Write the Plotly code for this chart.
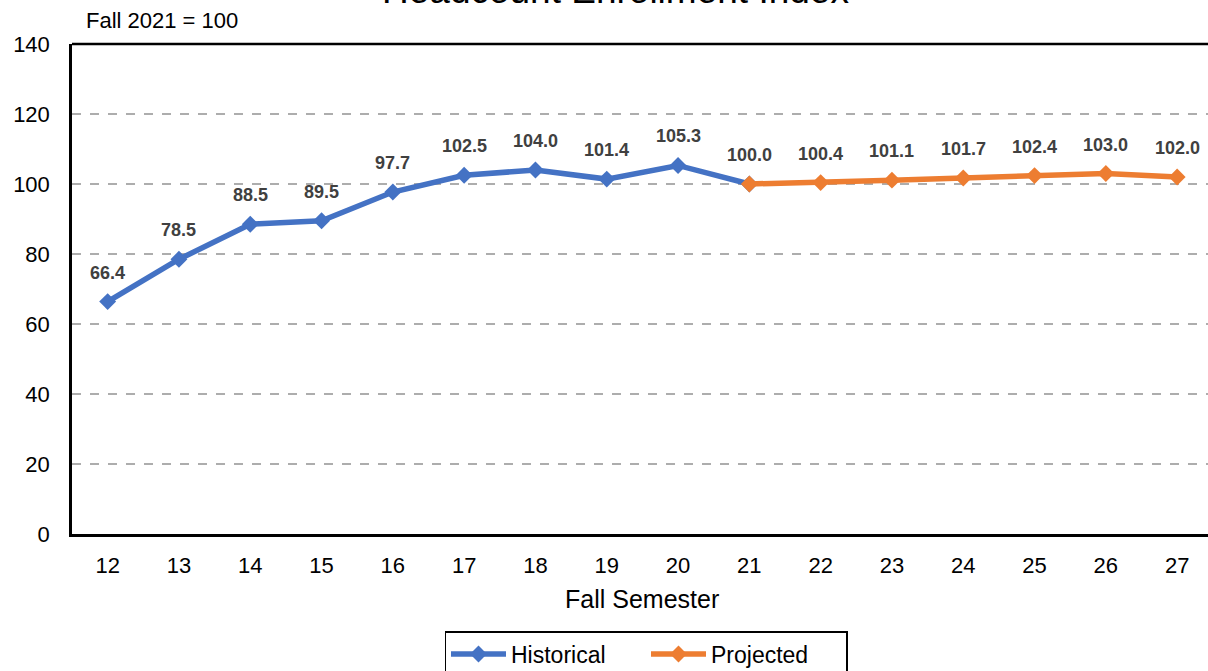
import plotly.graph_objects as go

# index values, Fall 2021 = 100
hist_years = [12, 13, 14, 15, 16, 17, 18, 19, 20, 21]
hist_values = [66.4, 78.5, 88.5, 89.5, 97.7, 102.5, 104.0, 101.4, 105.3, 100.0]
proj_years = [21, 22, 23, 24, 25, 26, 27]
proj_values = [100.0, 100.4, 101.1, 101.7, 102.4, 103.0, 102.0]
tick_years = list(range(12, 28))

font_fam = "Arial, Liberation Sans, sans-serif"
blue = "#4472C4"
orange = "#ED7D31"

fig = go.Figure()
fig.add_trace(go.Scatter(
    x=hist_years, y=hist_values, name="Historical",
    mode="lines+markers",
    line=dict(color=blue, width=5.5),
    marker=dict(symbol="diamond", size=13, color=blue),
))
fig.add_trace(go.Scatter(
    x=proj_years, y=proj_values, name="Projected",
    mode="lines+markers",
    line=dict(color=orange, width=5.5),
    marker=dict(symbol="diamond", size=13, color=orange),
))

# data labels (point 21 labelled once)
labels = dict(zip(hist_years, hist_values))
labels.update(dict(zip(proj_years, proj_values)))
for yr, v in labels.items():
    fig.add_annotation(
        x=yr, y=v, text="{:.1f}".format(v), showarrow=False,
        yshift=29, yanchor="middle",
        font=dict(family=font_fam, size=18, color="#404040", weight="bold"),
    )

W = 1208
pw = W - 72

fig.add_annotation(
    text="Headcount Enrollment Index", showarrow=False,
    xref="paper", yref="paper", x=(615 - 72) / pw, y=1.063,
    xanchor="center", yanchor="bottom",
    font=dict(family=font_fam, size=37, color="black"),
)
fig.add_annotation(
    text="Fall 2021 = 100", showarrow=False,
    xref="paper", yref="paper", x=(84 - 72) / pw, y=1 + 24 / 490,
    xanchor="left", yanchor="middle",
    font=dict(family=font_fam, size=22, color="black"),
)
fig.add_annotation(
    text="Fall Semester", showarrow=False,
    xref="paper", yref="paper", x=(642 - 72) / pw, y=-65 / 490,
    xanchor="center", yanchor="middle",
    font=dict(family=font_fam, size=25, color="black"),
)

# top border of the plot area (the right border lies outside the picture)
fig.add_shape(
    type="line", xref="paper", yref="paper", x0=0, x1=1.01, y0=1, y1=1,
    line=dict(color="black", width=2.5),
)

fig.update_layout(
    width=W, height=671,
    margin=dict(l=72, r=0, t=44, b=137, autoexpand=False),
    plot_bgcolor="white", paper_bgcolor="white",
    font=dict(family=font_fam, color="black"),
    showlegend=True,
    legend=dict(
        orientation="h", xanchor="center", yanchor="top",
        x=(646 - 72) / pw, y=-97 / 490,
        bordercolor="black", borderwidth=1.5,
        font=dict(size=23, color="black"),
        entrywidth=130, itemwidth=55, tracegroupgap=0,
    ),
)
fig.update_xaxes(
    range=[11.5, 11.5 + pw / 71.3],
    tickmode="array", tickvals=tick_years,
    ticktext=[str(t) for t in tick_years],
    showgrid=False, zeroline=False, automargin=False,
    showline=True, linecolor="black", linewidth=2.5, mirror=False,
    tickfont=dict(size=22), ticklabelstandoff=10,
)
fig.update_yaxes(
    range=[0, 140], dtick=20,
    showgrid=True, gridcolor="#ADADAD", griddash="dash", gridwidth=1.5,
    zeroline=False, automargin=False,
    showline=True, linecolor="black", linewidth=2.5, mirror=False,
    tickfont=dict(size=22), ticklabelstandoff=15,
)

# drop the default page margin so the figure sits at the window corner
fig.write_html(
    "out.html",
    config={"displayModeBar": False},
    post_script="document.body.style.margin='0';document.body.style.overflow='hidden';",
)
